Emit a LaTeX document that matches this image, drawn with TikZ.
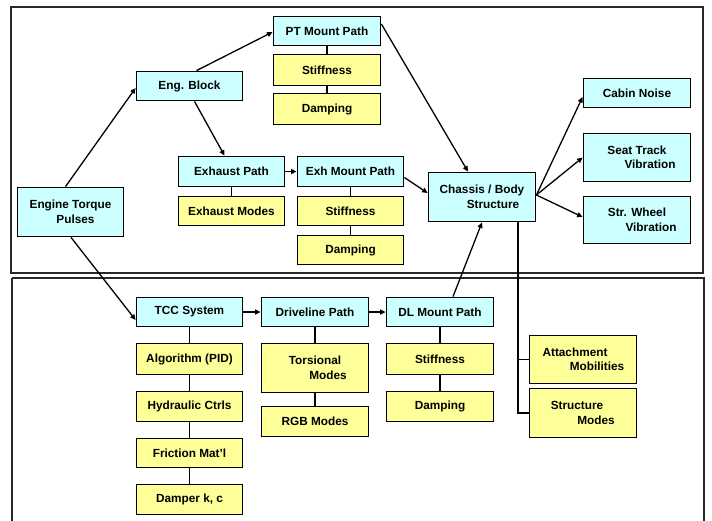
\documentclass[tikz,border=0pt]{standalone}
\usepackage{fontspec}
\setmainfont{Liberation Sans}
\usetikzlibrary{arrows.meta}
\definecolor{boxcyan}{RGB}{204,255,255}
\definecolor{boxyellow}{RGB}{255,255,153}
\definecolor{framegray}{RGB}{40,40,40}
\begin{document}
\begin{tikzpicture}[x=1pt,y=-1pt,
  base/.style={draw=black, line width=1.8pt, inner sep=1pt, align=center,
    font=\fontsize{11.8}{14.5}\selectfont\bfseries},
  cbox/.style={base, fill=boxcyan},
  ybox/.style={base, fill=boxyellow},
  arr/.style={line width=1.3pt, -{Triangle[length=5.5pt,width=5pt]}},
  lnk/.style={line width=1.3pt},
  frame/.style={draw=framegray, line width=2pt}]
\useasboundingbox (0,0) rectangle (712,520);
\fill[white] (0,0) rectangle (712,520);
\draw[frame] (11,6.5) rectangle (703,272.5);
\draw[frame] (12,277.5) -- (12,530) (12,277.5) -- (704,277.5) -- (704,530);

% top region
\node[cbox, minimum width=106pt, minimum height=49pt] (etp) at (70.5,212) {Engine Torque\\\hspace*{10pt}Pulses};
\node[cbox, minimum width=106pt, minimum height=29pt] (eng) at (189.5,86) {Eng. Block};
\node[cbox, minimum width=107pt, minimum height=29pt] (ptm) at (327,31) {PT Mount Path};
\node[ybox, minimum width=107pt, minimum height=31pt] (pts) at (327,70) {Stiffness};
\node[ybox, minimum width=107pt, minimum height=31pt] (ptd) at (327,109) {Damping};
\node[cbox, minimum width=106pt, minimum height=30pt] (exh) at (231.5,171.5) {Exhaust Path};
\node[ybox, minimum width=106pt, minimum height=29pt] (exm) at (231.5,211) {Exhaust Modes};
\node[cbox, minimum width=106pt, minimum height=30pt] (exhm) at (350.5,171.5) {Exh Mount Path};
\node[ybox, minimum width=106pt, minimum height=29pt] (exs) at (350.5,211) {Stiffness};
\node[ybox, minimum width=106pt, minimum height=29pt] (exd) at (350.5,250) {Damping};
\node[cbox, minimum width=107pt, minimum height=49pt] (chs) at (482,197) {Chassis / Body\\\hspace*{22pt}Structure};
\node[cbox, minimum width=107pt, minimum height=29pt] (cab) at (637,93) {Cabin Noise};
\node[cbox, minimum width=107pt, minimum height=48pt] (seat) at (637,157.5) {Seat Track\\\hspace*{26pt}Vibration};
\node[cbox, minimum width=107pt, minimum height=47pt] (whl) at (637,220) {Str. Wheel\\\hspace*{28pt}Vibration};

% bottom region
\node[cbox, minimum width=106pt, minimum height=29pt] (tcc) at (189.5,312) {TCC System};
\node[ybox, minimum width=106pt, minimum height=31pt] (alg) at (189.5,359) {Algorithm (PID)};
\node[ybox, minimum width=106pt, minimum height=30pt] (hyd) at (189.5,406.5) {Hydraulic Ctrls};
\node[ybox, minimum width=106pt, minimum height=29pt] (fri) at (189.5,453) {Friction Mat’l};
\node[ybox, minimum width=106pt, minimum height=30pt] (dmp) at (189.5,499.5) {Damper k, c};
\node[cbox, minimum width=107pt, minimum height=29pt] (drv) at (315,312) {Driveline Path};
\node[ybox, minimum width=107pt, minimum height=49pt] (tor) at (315,368) {Torsional\\\hspace*{26pt}Modes};
\node[ybox, minimum width=107pt, minimum height=30pt] (rgb) at (315,421.5) {RGB Modes};
\node[cbox, minimum width=107pt, minimum height=29pt] (dlm) at (440,312) {DL Mount Path};
\node[ybox, minimum width=107pt, minimum height=31pt] (dls) at (440,359) {Stiffness};
\node[ybox, minimum width=107pt, minimum height=30pt] (dld) at (440,406.5) {Damping};
\node[ybox, minimum width=107pt, minimum height=48pt] (att) at (583,359.5) {Attachment\hspace*{16pt}\\\hspace*{28pt}Mobilities};
\node[ybox, minimum width=107pt, minimum height=49pt] (str) at (583,413) {Structure\hspace*{12pt}\\\hspace*{26pt}Modes};

% vertical links
\draw[lnk] (ptm) -- (pts) (pts) -- (ptd);
\draw[lnk] (exh) -- (exm);
\draw[lnk] (exhm) -- (exs) (exs) -- (exd);
\draw[lnk] (tcc) -- (alg) (alg) -- (hyd) (hyd) -- (fri) (fri) -- (dmp);
\draw[lnk] (drv) -- (tor) (tor) -- (rgb);
\draw[lnk] (dlm) -- (dls) (dls) -- (dld);
\draw[lnk] ([xshift=36pt]chs.south) |- (str.west);
\draw[lnk] ([xshift=36pt]chs.south) |- (att.west);

% arrows
\draw[arr] ([xshift=-5pt]etp.north) -- ([yshift=-2pt]eng.west);
\draw[arr] ([xshift=7pt]eng.north) -- ([yshift=-1pt]ptm.west);
\draw[arr] ([xshift=5pt]eng.south) -- ([xshift=-7pt]exh.north);
\draw[arr] (exh.east) -- (exhm.west);
\draw[arr] ([yshift=7pt]ptm.east) -- ([xshift=-14pt]chs.north);
\draw[arr] ([yshift=-6pt]exhm.east) -- ([yshift=4pt]chs.west);
\draw[arr] ([yshift=2pt]chs.east) -- ([yshift=-4pt]cab.west);
\draw[arr] ([yshift=2pt]chs.east) -- (seat.west);
\draw[arr] ([yshift=2pt]chs.east) -- ([yshift=3pt]whl.west);
\draw[arr] ([xshift=0.5pt]etp.south) -- ([yshift=-8pt]tcc.west);
\draw[arr] (tcc.east) -- (drv.west);
\draw[arr] (drv.east) -- (dlm.west);
\draw[arr] ([xshift=13pt]dlm.north) -- (chs.south);
\end{tikzpicture}
\end{document}
